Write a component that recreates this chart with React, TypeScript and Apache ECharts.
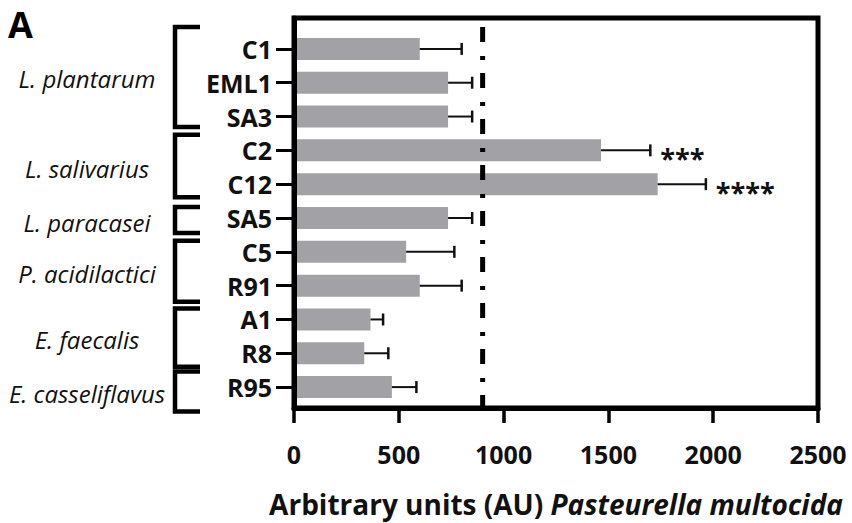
import React, { useEffect, useRef } from "react";
import * as echarts from "echarts";

const categories = ["C1", "EML1", "SA3", "C2", "C12", "SA5", "C5", "R91", "A1", "R8", "R95"];
const means = [600, 735, 735, 1465, 1735, 735, 535, 600, 365, 335, 467];
const sds = [200, 115, 115, 235, 230, 115, 230, 200, 60, 115, 117];
const significance = ["", "", "", "***", "****", "", "", "", "", "", ""];
const groupNames = ["L. plantarum", "L. salivarius", "L. paracasei", "P. acidilactici", "E. faecalis", "E. casseliflavus"];
const groupFirst = [0, 3, 5, 6, 8, 10];
const groupLast = [2, 4, 5, 7, 9, 10];
const threshold = 900;
const xMin = 0;
const xMax = 2500;
const xInterval = 500;
const axisTitlePlain = "Arbitrary units (AU) ";
const axisTitleItalic = "Pasteurella multocida";
const panelLetter = "A";

// layout (pixels)
const bracketTopPad = [22, 15.5, 11, 11, 11, 15.5];
const bracketBottomPad = [10.5, 13, 15, 16, 13.5, 24.5];
const FONT = "Open Sans";

export default function App() {
  const ref = useRef<HTMLDivElement>(null);
  useEffect(() => {
    document.body.style.margin = "0";
    const chart = echarts.init(ref.current!, null, { renderer: "svg" });
    const option: any = {
      animation: false,
      backgroundColor: "#fff",
      textStyle: { fontFamily: FONT },
      grid: [
        { left: 294, top: 18, width: 524, height: 390, show: true, borderColor: "#000", borderWidth: 5, backgroundColor: "transparent" },
        { left: 294, top: 32, width: 524, height: 372 },
      ],
      xAxis: [
        {
          gridIndex: 0,
          type: "value",
          min: xMin,
          max: xMax,
          interval: xInterval,
          z: 10,
          axisLine: { show: true, lineStyle: { color: "#000", width: 5 } },
          axisTick: { show: true, length: 15, lineStyle: { color: "#000", width: 3.5 } },
          splitLine: { show: false },
          axisLabel: {
            color: "#111",
            fontFamily: FONT,
            fontWeight: "bold",
            fontSize: 25,
            margin: 33,
            formatter: (v: number) => String(v),
          },
          name: `{a|${axisTitlePlain}}{b|${axisTitleItalic}}`,
          nameLocation: "middle",
          nameGap: 82,
          nameTextStyle: {
            rich: {
              a: { fontFamily: FONT, fontWeight: "bold", fontSize: 28, color: "#111" },
              b: { fontFamily: FONT, fontWeight: "bold", fontStyle: "italic", fontSize: 28, color: "#111" },
            },
          },
        },
        { gridIndex: 1, type: "value", min: xMin, max: xMax, show: false },
      ],
      yAxis: [
        {
          gridIndex: 0,
          type: "value",
          min: 0,
          max: 1,
          z: 10,
          axisLine: { show: true, lineStyle: { color: "#000", width: 5 } },
          axisTick: { show: false },
          axisLabel: { show: false },
          splitLine: { show: false },
        },
        {
          gridIndex: 1,
          type: "category",
          inverse: true,
          data: categories,
          axisLine: { show: false },
          axisTick: { show: true, alignWithLabel: true, length: 18, lineStyle: { color: "#000", width: 3 } },
          axisLabel: { color: "#111", fontFamily: FONT, fontWeight: "bold", fontSize: 25, margin: 22 },
          splitLine: { show: false },
        },
      ],
      graphic: [
        {
          type: "text",
          left: 8,
          top: 6,
          style: { text: panelLetter, fontFamily: FONT, fontWeight: "bold", fontSize: 36, fill: "#000" },
        },
      ],
      series: [
        {
          type: "bar",
          xAxisIndex: 1,
          yAxisIndex: 1,
          data: means,
          barWidth: 22,
          itemStyle: { color: "#a2a2a6" },
          z: 2,
        },
        {
          type: "custom",
          xAxisIndex: 1,
          yAxisIndex: 1,
          z: 3,
          data: means.map((m, i) => [m, i, sds[i]]),
          renderItem: (params: any, api: any) => {
            const i = params.dataIndex;
            const m = means[i];
            const s = sds[i];
            const p0 = api.coord([m, i]);
            const p1 = api.coord([m + s, i]);
            const children: any[] = [
              { type: "line", shape: { x1: p0[0], y1: p0[1], x2: p1[0], y2: p1[1] }, style: { stroke: "#111", lineWidth: 2 } },
              { type: "line", shape: { x1: p1[0], y1: p1[1] - 6, x2: p1[0], y2: p1[1] + 6 }, style: { stroke: "#111", lineWidth: 2.5 } },
            ];
            if (significance[i]) {
              children.push({
                type: "text",
                x: p1[0] + 10,
                y: p1[1] + 7,
                style: {
                  text: significance[i],
                  fontFamily: FONT,
                  fontWeight: "bold",
                  fontSize: 27,
                  fill: "#111",
                  align: "left",
                  verticalAlign: "middle",
                },
              });
            }
            return { type: "group", children };
          },
        },
        {
          type: "custom",
          xAxisIndex: 1,
          yAxisIndex: 1,
          clip: false,
          silent: true,
          data: groupNames.map((_, i) => [0, groupFirst[i]]),
          renderItem: (params: any, api: any) => {
            const g = params.dataIndex;
            const a = api.coord([0, groupFirst[g]]);
            const b = api.coord([0, groupLast[g]]);
            const top = a[1] - bracketTopPad[g];
            const bottom = b[1] + bracketBottomPad[g];
            const xl = a[0] - 119;
            const xr = a[0] - 94;
            return {
              type: "group",
              children: [
                {
                  type: "polyline",
                  shape: { points: [[xr, top], [xl, top], [xl, bottom], [xr, bottom]] },
                  style: { stroke: "#000", lineWidth: 4.5, fill: "none", lineJoin: "miter" },
                },
                {
                  type: "text",
                  x: a[0] - 207,
                  y: (top + bottom) / 2 + 2,
                  style: {
                    text: groupNames[g],
                    fontFamily: FONT,
                    fontStyle: "italic",
                    fontSize: 24,
                    fill: "#111",
                    align: "center",
                    verticalAlign: "middle",
                  },
                },
              ],
            };
          },
        },
        {
          type: "custom",
          xAxisIndex: 0,
          yAxisIndex: 0,
          z: 5,
          silent: true,
          data: [[threshold, 0]],
          renderItem: (params: any, api: any) => {
            const x = api.coord([threshold, 0])[0];
            const top = params.coordSys.y;
            const bottom = top + params.coordSys.height;
            return {
              type: "line",
              shape: { x1: x, y1: top, x2: x, y2: bottom },
              style: { stroke: "#000", lineWidth: 5, lineDash: [15, 14, 4, 13], lineDashOffset: 37 },
            };
          },
        },
      ],
    };
    chart.setOption(option);
    return () => chart.dispose();
  }, []);
  return <div ref={ref} style={{ width: 852, height: 523 }} />;
}
